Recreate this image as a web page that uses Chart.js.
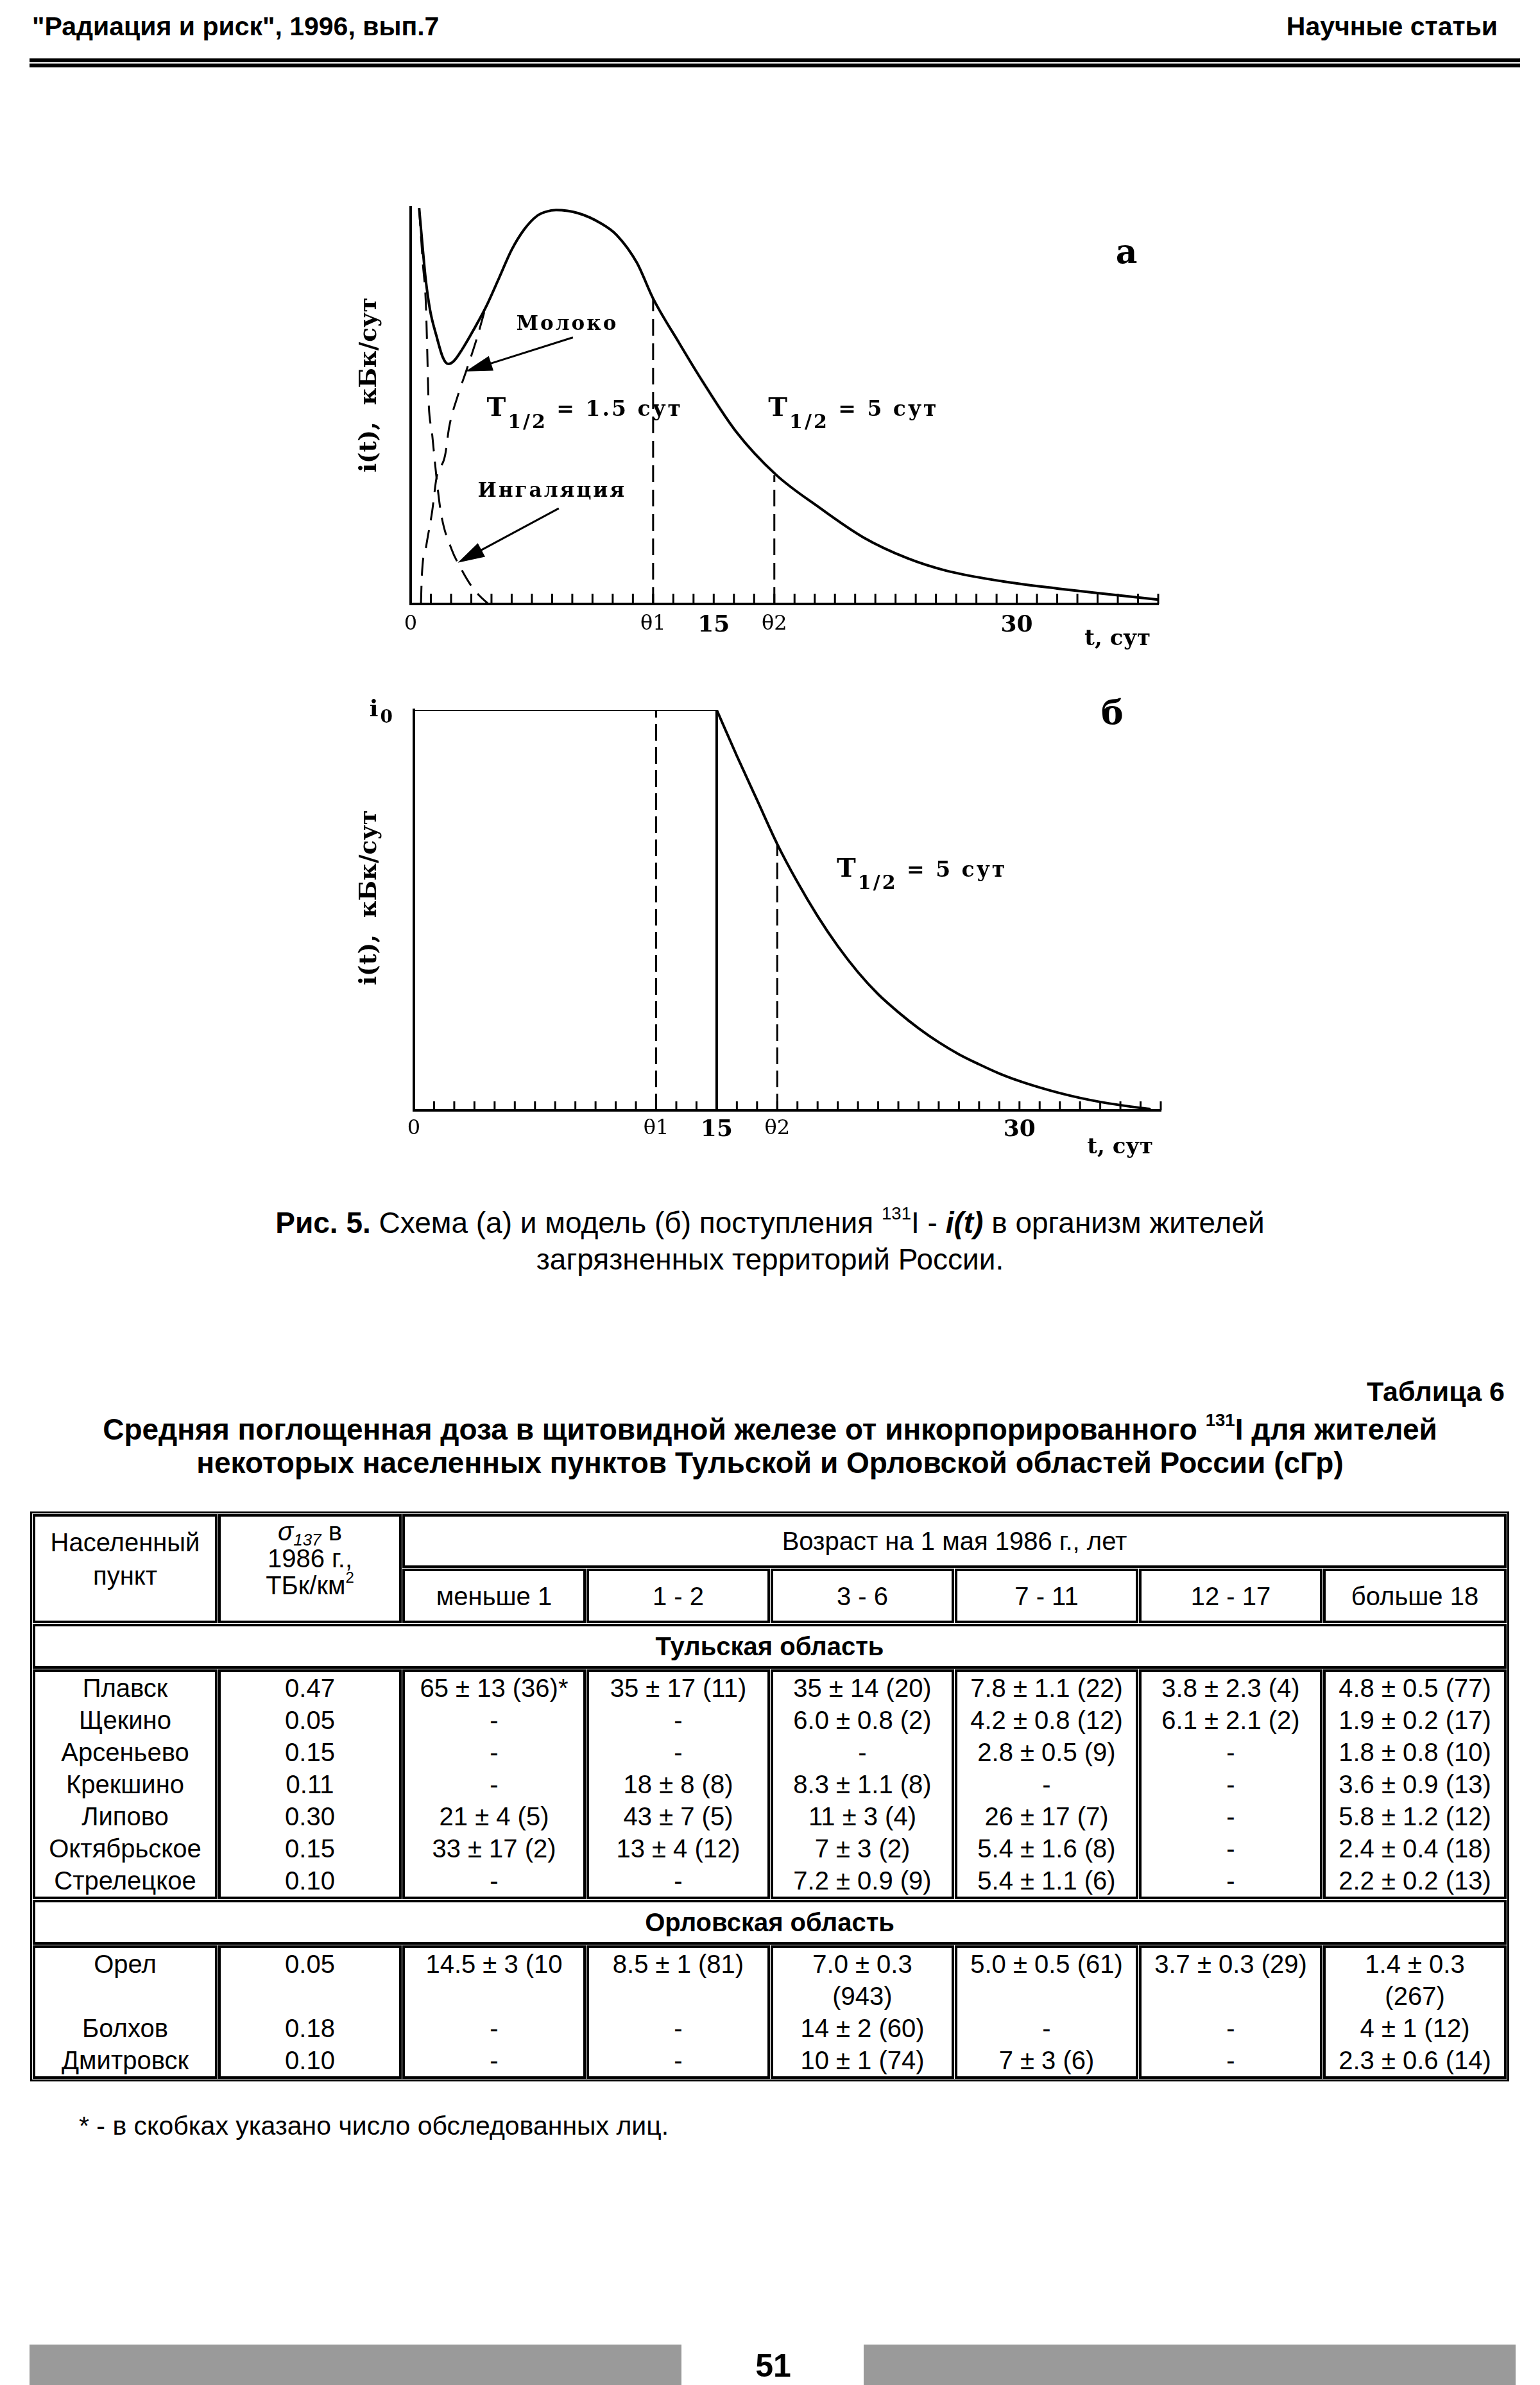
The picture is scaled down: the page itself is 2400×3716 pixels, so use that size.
<!DOCTYPE html>
<html lang="ru">
<head>
<meta charset="utf-8">
<title>Рис. 5 и Таблица 6</title>
<script src="https://cdn.jsdelivr.net/npm/chart.js@4.4.1/dist/chart.umd.min.js"></script>
<style>
  html, body { margin: 0; padding: 0; background: #fff; }
  body { position: relative; width: 2400px; height: 3716px; overflow: hidden;
         font-family: "Liberation Sans", Arial, sans-serif; color: #000; }
  .abs { position: absolute; }
  .runhead { top: 17px; font-size: 41px; font-weight: bold; line-height: 48px; white-space: nowrap; }
  .rule { left: 46px; width: 2323px; height: 6px; background: #000; }
  .center { left: 0; width: 2400px; text-align: center; white-space: nowrap; }
  .caption { font-size: 46px; line-height: 57px; }
  .ttitle { font-size: 46px; line-height: 52px; font-weight: bold; }
  sup { font-size: 0.6em; vertical-align: baseline; position: relative; top: -0.75em; line-height: 0; }
  sub { font-size: 0.65em; vertical-align: baseline; position: relative; top: 0.3em; line-height: 0; }
  #tbl { position: absolute; left: 47px; top: 2355px; width: 2305px; border: 3px solid #000;
         border-collapse: separate; border-spacing: 1px; table-layout: fixed; font-size: 40px; }
  #tbl td { border: 4px solid #000; padding: 0; text-align: center; vertical-align: middle;
            line-height: 50px; white-space: nowrap; overflow: hidden; }
  #tbl tr.blk td { vertical-align: top; }
  #tbl td.reg { font-weight: bold; }
  .footnote { left: 123px; top: 3288px; font-size: 41px; line-height: 48px; white-space: nowrap; }
  .bar { top: 3653px; width: 1016px; height: 63px; background: #9a9a9a; }
  .folio { left: 1105px; width: 200px; top: 3658px; text-align: center; font: bold 50px/56px "Liberation Sans", Arial, sans-serif; }
</style>
</head>
<body>

<div class="abs runhead" style="left:50px">"Радиация и риск", 1996, вып.7</div>
<div class="abs runhead" style="right:66px">Научные статьи</div>
<div class="abs rule" style="top:91px"></div>
<div class="abs rule" style="top:99px"></div>

<canvas id="chartA" class="abs" width="1400" height="760" style="left:500px;top:280px"></canvas>
<canvas id="chartB" class="abs" width="1400" height="760" style="left:500px;top:1060px"></canvas>

<div class="abs center caption" style="top:1877px"><b>Рис. 5.</b> Схема (а) и модель (б) поступления <sup>131</sup>I - <b><i>i(t)</i></b> в организм жителей<br>загрязненных территорий России.</div>

<div class="abs ttitle" style="right:55px;top:2142px;font-size:43px">Таблица 6</div>
<div class="abs center ttitle" style="top:2201px">Средняя поглощенная доза в щитовидной железе от инкорпорированного <sup>131</sup>I для жителей<br>некоторых населенных пунктов Тульской и Орловской областей России (сГр)</div>

<table id="tbl"></table>

<div class="abs footnote">* - в скобках указано число обследованных лиц.</div>

<div class="abs bar" style="left:46px"></div>
<div class="abs bar" style="left:1346px"></div>
<div class="abs folio">51</div>

<script>
const sumT  = [0.42, 0.58, 0.74, 0.96, 1.28, 1.59, 1.86, 2.13, 2.55, 3.08, 3.72, 4.36, 5.0, 5.63, 6.27, 6.7, 7.2, 8.3, 9.4, 10.2, 11.2, 12, 13.3, 14.4, 16.1, 18.1, 20.2, 22.4, 24.6, 26.5, 29.3, 32, 34.8, 37];
const sumI  = [99.8, 90.6, 82, 74.1, 67.5, 62.2, 60.5, 61.2, 64.2, 68.8, 74.8, 82, 89.3, 94.5, 97.9, 98.9, 99.3, 98.5, 96, 93, 86, 77, 65.7, 56.5, 43.5, 32.5, 24.4, 16.8, 11.5, 8.4, 5.7, 3.9, 2.3, 1.1];
const inhT  = [0.42, 0.6, 0.75, 0.82, 0.88, 1.06, 1.28, 1.51, 2.04, 2.44, 2.98, 3.4, 3.85];
const inhI  = [99.8, 86, 76, 64, 52, 43, 31.8, 22.6, 13.6, 9.4, 4.7, 2.1, 0];
const milkT = [0.51, 0.55, 0.77, 1.06, 1.28, 1.7, 1.91, 2.34, 2.76, 3.29, 3.7];
const milkI = [0, 6.7, 14.6, 23.2, 31.8, 37.4, 44.7, 52.6, 58.9, 67.2, 74.6];
const thetaT = [12, 18];
const thetaA = [77, 32.5];

// ---------- Рис. 5б: модель ----------
const i0 = 100;
const plateauT = [0, 15];
const decayT = [15, 16, 17, 18, 19, 20, 21, 22, 23, 24, 25, 26, 27, 28, 29, 30, 31, 32, 33, 34, 35, 36, 36.5];
const decayI = [100, 88.5, 77.5, 66.5, 57, 48.5, 41, 34.5, 29, 24.5, 20.5, 17, 14, 11.5, 9.2, 7.3, 5.7, 4.3, 3.1, 2.1, 1.3, 0.6, 0.3];
const thetaB = [100, 66.5];

// ---------- ось t ----------
const tMax = 37;
const tickVals = [0, 12, 15, 18, 30];
const tickText = ['0', 'θ1', '15', 'θ2', '30'];

// ---------- Таблица 6 ----------
const ageGroups = ['меньше 1', '1 - 2', '3 - 6', '7 - 11', '12 - 17', 'больше 18'];
const tulaPlaces = ['Плавск', 'Щекино', 'Арсеньево', 'Крекшино', 'Липово', 'Октябрьское', 'Стрелецкое'];
const tulaCs = ['0.47', '0.05', '0.15', '0.11', '0.30', '0.15', '0.10'];
const tulaDose = [
  ['65 ± 13 (36)*', '35 ± 17 (11)', '35 ± 14 (20)', '7.8 ± 1.1 (22)', '3.8 ± 2.3 (4)', '4.8 ± 0.5 (77)'],
  ['-', '-', '6.0 ± 0.8 (2)', '4.2 ± 0.8 (12)', '6.1 ± 2.1 (2)', '1.9 ± 0.2 (17)'],
  ['-', '-', '-', '2.8 ± 0.5 (9)', '-', '1.8 ± 0.8 (10)'],
  ['-', '18 ± 8 (8)', '8.3 ± 1.1 (8)', '-', '-', '3.6 ± 0.9 (13)'],
  ['21 ± 4 (5)', '43 ± 7 (5)', '11 ± 3 (4)', '26 ± 17 (7)', '-', '5.8 ± 1.2 (12)'],
  ['33 ± 17 (2)', '13 ± 4 (12)', '7 ± 3 (2)', '5.4 ± 1.6 (8)', '-', '2.4 ± 0.4 (18)'],
  ['-', '-', '7.2 ± 0.9 (9)', '5.4 ± 1.1 (6)', '-', '2.2 ± 0.2 (13)']
];
const orelPlaces = ['Орел', 'Болхов', 'Дмитровск'];
const orelCs = ['0.05', '0.18', '0.10'];
const orelDose = [
  ['14.5 ± 3 (10', '8.5 ± 1 (81)', '7.0 ± 0.3 (943)', '5.0 ± 0.5 (61)', '3.7 ± 0.3 (29)', '1.4 ± 0.3 (267)'],
  ['-', '-', '14 ± 2 (60)', '-', '-', '4 ± 1 (12)'],
  ['-', '-', '10 ± 1 (74)', '7 ± 3 (6)', '-', '2.3 ± 0.6 (14)']
];

// ================= table =================
function blockRow(places, cs, dose, h) {
  const cols = [places, cs].concat(ageGroups.map((_, j) => dose.map(r => r[j])));
  const split = s => {
    if (s.length <= 14) return [s];
    const k = s.lastIndexOf(' ');
    return [s.slice(0, k), s.slice(k + 1)];
  };
  const nLines = places.map((_, i) => Math.max(...cols.map(c => split(c[i]).length)));
  return `<tr class="blk" style="height:${h}px">` + cols.map(c => '<td>' + c.map((s, i) => {
    const p = split(s);
    while (p.length < nLines[i]) p.push('&nbsp;');
    return p.join('<br>');
  }).join('<br>') + '</td>').join('') + '</tr>';
}

const colW = [288, 286, 286, 286, 286, 286, 286, 286];
let html = '<colgroup>' + colW.map(w => `<col style="width:${w}px">`).join('') + '</colgroup>';
html += '<tr style="height:84px"><td rowspan="2" style="vertical-align:top;padding-top:14px;line-height:52px">Населенный<br>пункт</td>' +
        '<td rowspan="2" style="vertical-align:top;padding-top:2px;line-height:42px"><i>σ<sub>137</sub></i> в<br>1986 г.,<br>ТБк/км<sup>2</sup></td>' +
        '<td colspan="6">Возраст на 1 мая 1986 г., лет</td></tr>';
html += '<tr style="height:85px">' + ageGroups.map(a => `<td>${a}</td>`).join('') + '</tr>';
html += '<tr style="height:70px"><td colspan="8" class="reg">Тульская область</td></tr>';
html += blockRow(tulaPlaces, tulaCs, tulaDose, 356);
html += '<tr style="height:70px"><td colspan="8" class="reg">Орловская область</td></tr>';
html += blockRow(orelPlaces, orelCs, orelDose, 208);
document.getElementById('tbl').innerHTML = html;

// ================= charts =================
Chart.defaults.font.family = '"DejaVu Serif", serif';
Chart.defaults.color = '#000';

const pts = (xs, ys) => xs.map((x, i) => ({x: x, y: ys[i]}));
const curve = (data, w, dash) => ({
  data: data, showLine: true, borderColor: '#000', borderWidth: w, borderDash: dash || [],
  pointRadius: 0, fill: false, cubicInterpolationMode: 'monotone'
});
const straight = (data, w, dash) => ({
  data: data, showLine: true, borderColor: '#000', borderWidth: w, borderDash: dash || [],
  pointRadius: 0, fill: false, tension: 0
});

// tick marks pointing up, arrows and text labels placed in data units
const scheme = {
  id: 'scheme',
  afterDraw(chart, args, o) {
    const ctx = chart.ctx;
    const x = chart.scales.x, y = chart.scales.y;
    ctx.save();
    ctx.strokeStyle = '#000';
    ctx.fillStyle = '#000';
    ctx.lineWidth = 3;
    x.ticks.forEach(t => {
      const px = x.getPixelForValue(t.value);
      ctx.beginPath();
      ctx.moveTo(px, y.bottom);
      ctx.lineTo(px, y.bottom - o.tickLen);
      ctx.stroke();
    });
    (o.arrows || []).forEach(a => {
      const x1 = x.getPixelForValue(a.from[0]), y1 = y.getPixelForValue(a.from[1]);
      const x2 = x.getPixelForValue(a.to[0]), y2 = y.getPixelForValue(a.to[1]);
      const ang = Math.atan2(y2 - y1, x2 - x1);
      const L = 42, W = 12;
      const c = Math.cos(ang), s = Math.sin(ang);
      ctx.lineWidth = 3;
      ctx.beginPath();
      ctx.moveTo(x1, y1);
      ctx.lineTo(x2 - L * 0.8 * c, y2 - L * 0.8 * s);
      ctx.stroke();
      ctx.beginPath();
      ctx.moveTo(x2, y2);
      ctx.lineTo(x2 - L * c + W * s, y2 - L * s - W * c);
      ctx.lineTo(x2 - L * c - W * s, y2 - L * s + W * c);
      ctx.closePath();
      ctx.fill();
    });
    ctx.textBaseline = 'alphabetic';
    ctx.textAlign = 'left';
    ctx.letterSpacing = '3px';
    (o.labels || []).forEach(l => {
      let w = 0;
      const parts = l.parts.map(p => {
        ctx.font = 'bold ' + p.size + 'px "DejaVu Serif"';
        const pw = ctx.measureText(p.text).width;
        w += pw;
        return Object.assign({w: pw}, p);
      });
      let px = x.getPixelForValue(l.t) - (l.align === 'center' ? w / 2 : 0);
      const py = y.getPixelForValue(l.v);
      parts.forEach(p => {
        ctx.font = 'bold ' + p.size + 'px "DejaVu Serif"';
        ctx.fillText(p.text, px, py + (p.dy || 0));
        px += p.w;
      });
    });
    ctx.restore();
  }
};

function xScale(tickPad, titlePad, h) {
  return {
    type: 'linear', min: 0, max: tMax,
    afterFit: s => { s.height = h; },
    grid: {display: false, drawTicks: false},
    border: {display: true, color: '#000', width: 4},
    ticks: {
      stepSize: 1, autoSkip: false, maxRotation: 0, padding: tickPad, color: '#000',
      callback: v => { const k = tickVals.indexOf(v); return k < 0 ? '' : tickText[k]; },
      font: c => (c.tick && (c.tick.value === 15 || c.tick.value === 30))
        ? {family: '"DejaVu Serif", serif', size: 36, weight: 'bold'}
        : {family: '"DejaVu Serif", serif', size: 32}
    },
    title: {display: true, text: 't, сут ', align: 'end', color: '#000',
            font: {family: '"DejaVu Serif", serif', size: 34, weight: 'bold'},
            padding: {top: 0, bottom: titlePad}}
  };
}

function yScale(w, lead) {
  return {
    type: 'linear', min: 0, max: 100,
    afterFit: s => { s.width = w; },
    grid: {display: false, drawTicks: false},
    border: {display: true, color: '#000', width: 4},
    ticks: {display: false},
    title: {display: true, text: lead + 'i(t),  кБк/сут', color: '#000',
            font: {family: '"DejaVu Serif", serif', size: 37, weight: 'bold'},
            padding: {top: 54, bottom: 0}}
  };
}

const T12 = (rest) => [{text: 'T', size: 40}, {text: '1/2', size: 30, dy: 19}, {text: rest, size: 33}];

new Chart(document.getElementById('chartA'), {
  type: 'scatter',
  data: {datasets: [
    curve(pts(sumT, sumI), 4),
    curve(pts(inhT, inhI), 3, [28, 16]),
    curve(pts(milkT, milkI), 3, [28, 16]),
    straight([{x: thetaT[0], y: 0}, {x: thetaT[0], y: thetaA[0]}], 3, [26, 12]),
    straight([{x: thetaT[1], y: 0}, {x: thetaT[1], y: thetaA[1]}], 3, [26, 12])
  ]},
  options: {
    responsive: false, animation: false,
    layout: {padding: {left: 0, top: 43, right: 95, bottom: 0}},
    plugins: {
      legend: {display: false}, tooltip: {enabled: false},
      scheme: {
        tickLen: 16,
        arrows: [{from: [8.03, 67.2], to: [2.71, 58.6]}, {from: [7.33, 24.1], to: [2.33, 10.4]}],
        labels: [
          {t: 35.48, v: 85.9, align: 'center', parts: [{text: 'а', size: 52}]},
          {t: 7.75, v: 69.1, align: 'center', parts: [{text: 'Молоко', size: 31}]},
          {t: 3.76, v: 47.4, align: 'left', parts: T12(' = 1.5 сут')},
          {t: 17.7, v: 47.4, align: 'left', parts: T12(' = 5 сут')},
          {t: 7.0, v: 27.1, align: 'center', parts: [{text: 'Ингаляция', size: 31}]}
        ]
      }
    },
    scales: {x: xScale(12, 23, 99), y: yScale(140, '     ')}
  },
  plugins: [scheme]
});

new Chart(document.getElementById('chartB'), {
  type: 'scatter',
  data: {datasets: [
    straight([{x: plateauT[0], y: i0}, {x: plateauT[1], y: i0}], 4),
    straight([{x: plateauT[1], y: 0}, {x: plateauT[1], y: i0}], 4),
    curve(pts(decayT, decayI), 4),
    straight([{x: thetaT[0], y: 0}, {x: thetaT[0], y: thetaB[0]}], 3, [26, 10]),
    straight([{x: thetaT[1], y: 0}, {x: thetaT[1], y: thetaB[1]}], 3, [26, 10])
  ]},
  options: {
    responsive: false, animation: false,
    layout: {padding: {left: 0, top: 46, right: 91, bottom: 0}},
    plugins: {
      legend: {display: false}, tooltip: {enabled: false},
      scheme: {
        tickLen: 14,
        labels: [
          {t: -2.2, v: 98.4, align: 'left', parts: [{text: 'i', size: 36}, {text: '0', size: 28, dy: 10}]},
          {t: 34.64, v: 96.5, align: 'center', parts: [{text: 'б', size: 52}]},
          {t: 20.95, v: 58.3, align: 'left', parts: T12(' = 5 сут')}
        ]
      }
    },
    scales: {x: xScale(9, 11, 90), y: yScale(145, '   ')}
  },
  plugins: [scheme]
});
</script>
</body>
</html>
